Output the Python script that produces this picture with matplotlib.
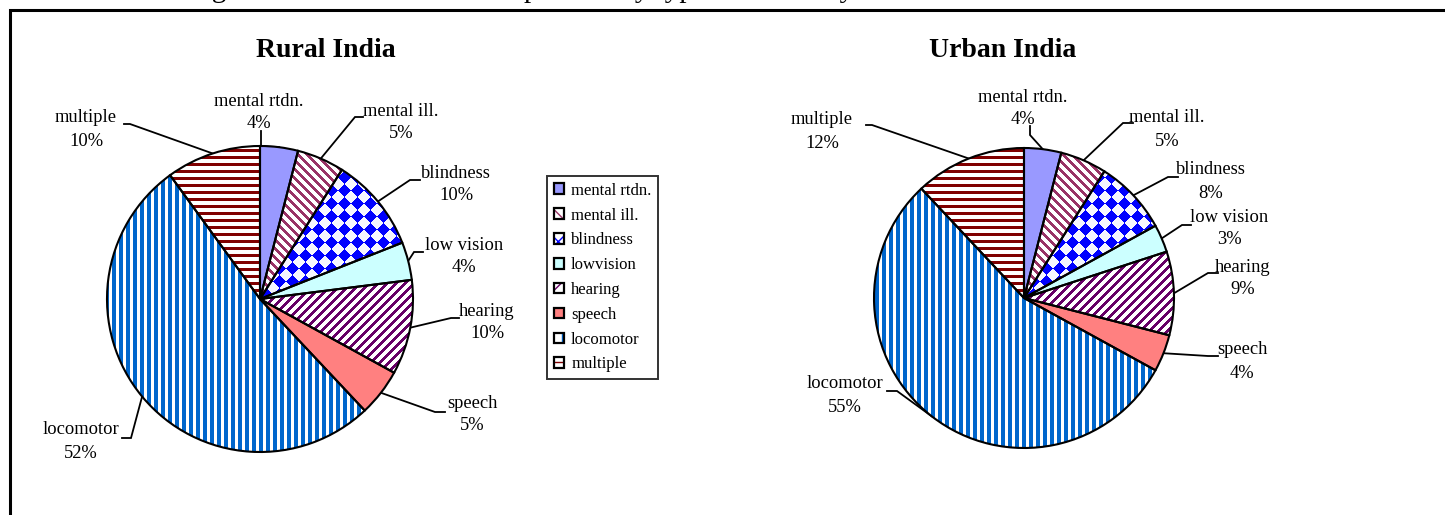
import numpy as np
import matplotlib
matplotlib.use("Agg")
import matplotlib.pyplot as plt
from matplotlib.patches import Patch
from matplotlib.legend_handler import HandlerTuple

# ---------------- data ----------------
categories = ['mental rtdn.', 'mental ill.', 'blindness', 'lowvision',
              'hearing', 'speech', 'locomotor', 'multiple']
slice_labels = ['mental rtdn.', 'mental ill.', 'blindness', 'low vision',
                'hearing', 'speech', 'locomotor', 'multiple']
rural_pct = [4, 5, 10, 4, 10, 5, 52, 10]
urban_pct = [4, 5, 8, 3, 9, 4, 55, 12]
chart_titles = ['Rural India', 'Urban India']
heading = 'Chart 2: Percentage distribution of disabled persons by type of disability'

# ---------------- styles ----------------
W, H = 1445, 515
FONT = 'Liberation Serif'
# (kind, colour, background)
styles = [
    ('solid', '#9999FF', '#FFFFFF'),
    ('bslash', '#993366', '#FFFFFF'),
    ('diamond', '#0000FF', '#F6F6FF'),
    ('solid', '#CCFFFF', '#FFFFFF'),
    ('slash', '#660066', '#FFFFFF'),
    ('solid', '#FF8080', '#FFFFFF'),
    ('vert', '#0066CC', '#FFFFFF'),
    ('horiz', '#800000', '#FFFFFF'),
]
legend_hatch = [None, '\\\\\\', 'xx', None, '///', None, '||', '--']


def P(y):
    """pixel row (from top) -> axes y"""
    return H - y


def texture(kind, fg, bg, x0, y0, w, h):
    yy, xx = np.mgrid[0:h, 0:w]
    xx = xx + x0
    yy = H - (yy + y0)
    if kind == 'solid':
        mask = np.ones_like(xx, dtype=bool)
    elif kind == 'bslash':
        mask = ((xx + yy) % 9) < 4
    elif kind == 'slash':
        mask = ((xx - yy) % 9) < 4
    elif kind == 'vert':
        mask = (xx % 7) < 4
    elif kind == 'horiz':
        mask = (yy % 7) < 3
    else:  # diamond checkerboard
        a = 13
        u = np.floor((xx + yy) / a)
        v = np.floor((xx - yy) / a)
        mask = ((u + v) % 2) == 0
    fgc = np.array(matplotlib.colors.to_rgb(fg))
    bgc = np.array(matplotlib.colors.to_rgb(bg))
    img = np.where(mask[..., None], fgc, bgc)
    return img


fig = plt.figure(figsize=(W / 100, H / 100), dpi=100)
ax = fig.add_axes([0, 0, 1, 1])

# layout per chart
charts = [
    dict(values=rural_pct, center=(260, 299), r=153, title_xy=(326, 57),
         label_xy=[(259, 101), (401, 111), (456, 173), (464, 245),
                   (487, 311), (472, 403), (81, 430), (86, 118)],
         ways=[[(261, 146), (261, 131)],
               [(355, 117), (363, 117)],
               [(410, 180), (420, 180)],
               [(414, 252), (423, 252)],
               [(451, 318), (459, 318)],
               [(435, 412), (445, 412)],
               [(131, 438), (122, 438)],
               [(130, 124), (124, 124)]]),
    dict(values=urban_pct, center=(1024, 298), r=150, title_xy=(1003, 57),
         label_xy=[(1023, 97), (1167, 118), (1211, 170), (1229, 217),
                   (1243, 267), (1242, 350), (845, 384), (822, 120)],
         ways=[[(1030, 135), (1030, 126)],
               [(1123, 123), (1133, 123)],
               [(1168, 177), (1178, 177)],
               [(1182, 225), (1191, 225)],
               [(1208, 273), (1218, 273)],
               [(1208, 356), (1218, 356)],
               [(897, 391), (887, 391)],
               [(872, 125), (866, 125)]]),
]

for ch, title in zip(charts, chart_titles):
    cx, cy = ch['center']
    r = ch['r']
    wedges, _ = ax.pie(ch['values'], center=(cx, P(cy)), radius=r,
                       startangle=90, counterclock=False, frame=True,
                       wedgeprops=dict(facecolor='none', edgecolor='black',
                                       linewidth=1.5, zorder=3))
    x0, y0 = int(cx - r - 2), int(cy - r - 2)
    size = int(2 * r + 5)
    for wdg, (kind, fg, bg), lab, pct, lxy, ways in zip(
            wedges, styles, slice_labels, ch['values'], ch['label_xy'], ch['ways']):
        img = texture(kind, fg, bg, x0, y0, size, size)
        im = ax.imshow(img, extent=(x0, x0 + size, P(y0 + size), P(y0)),
                       interpolation='nearest', zorder=2)
        im.set_clip_path(wdg)
        # leader line from wedge mid-angle edge point
        mid = np.deg2rad((wdg.theta1 + wdg.theta2) / 2)
        ex, ey = cx + r * np.cos(mid), P(cy) + r * np.sin(mid)
        xs = [ex] + [p[0] for p in ways]
        ys = [ey] + [P(p[1]) for p in ways]
        ax.plot(xs, ys, color='black', lw=1.3, zorder=1.5,
                solid_joinstyle='miter')
        ax.text(lxy[0], P(lxy[1]), lab, ha='center', va='center',
                fontsize=13.3, family=FONT, zorder=4)
        ax.text(lxy[0], P(lxy[1] + 23), f'{pct}%', ha='center', va='center',
                fontsize=13.3, family=FONT, zorder=4)
    ax.text(ch['title_xy'][0], P(ch['title_xy'][1]), title, ha='center',
            va='baseline', fontsize=20, fontweight='bold', family=FONT)

# legend
handles = []
for (kind, fg, bg), hat in zip(styles, legend_hatch):
    if kind == 'solid':
        base = Patch(facecolor=fg, edgecolor='none', linewidth=0)
    else:
        base = Patch(facecolor='white', edgecolor=fg, hatch=hat, linewidth=0)
    border = Patch(facecolor='none', edgecolor='black', linewidth=1.6)
    handles.append((base, border))
leg = ax.legend(handles, categories, loc='upper left',
                bbox_to_anchor=(547 / W, 1 - 176 / H), bbox_transform=ax.transAxes,
                handler_map={tuple: HandlerTuple(ndivide=1, pad=0)},
                prop=dict(family=FONT, size=12), frameon=True, fancybox=False,
                borderpad=0.4, handlelength=0.6, handleheight=0.6,
                handletextpad=0.45, labelspacing=0.53, borderaxespad=0)
leg.get_frame().set_edgecolor('black')
leg.get_frame().set_linewidth(1.4)

# outer frame (cut by the figure edges as in the reference)
ax.plot([10, 10, W + 20], [-20, P(10), P(10)], color='black', lw=2.2,
        solid_joinstyle='miter', clip_on=False)
# heading, mostly cut off at the top edge as in the reference
ax.text(10, P(-3), heading, ha='left', va='baseline', fontsize=21,
        family=FONT, clip_on=False)

ax.set_aspect('auto')
ax.set_xlim(0, W)
ax.set_ylim(0, H)
ax.set_axis_off()
fig.savefig('out.png', dpi=100)
